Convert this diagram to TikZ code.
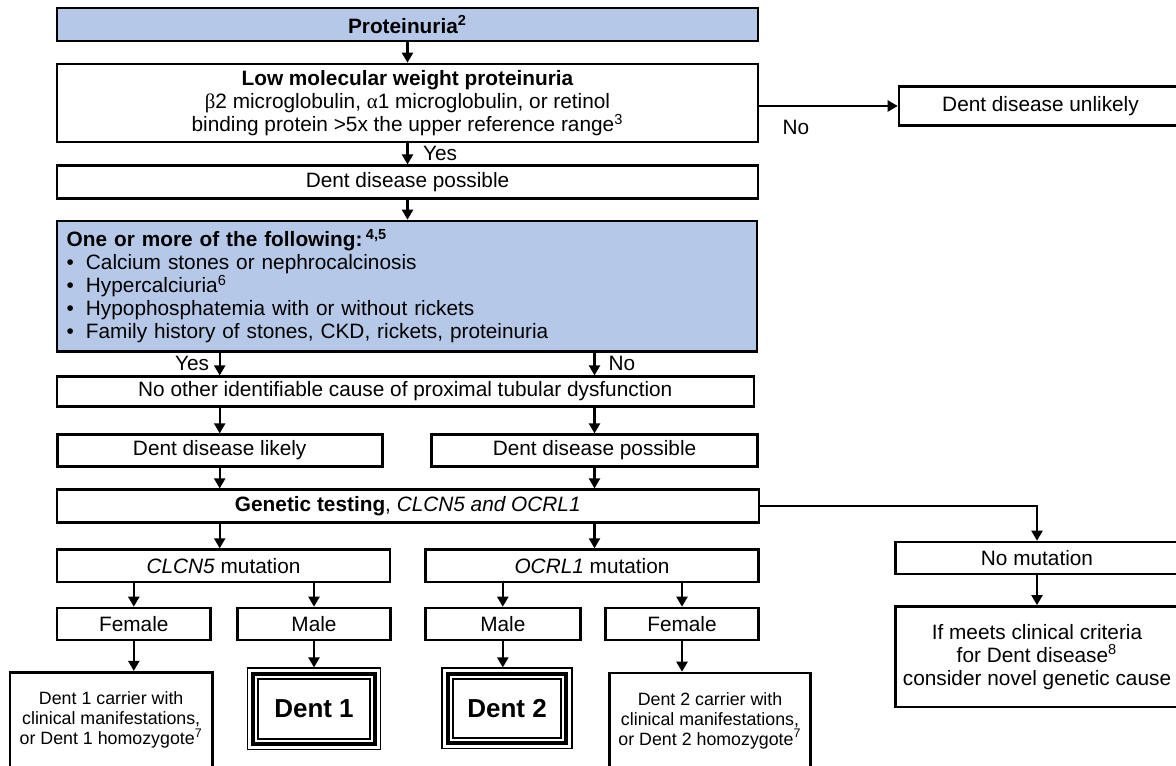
\documentclass[tikz,border=0pt]{standalone}
\usepackage{fontspec}
\setmainfont{Liberation Sans}
\newfontfamily\greekfont{Liberation Serif}
\usetikzlibrary{arrows.meta}
\definecolor{listblue}{RGB}{182,200,232}

\begin{document}
\begin{tikzpicture}[x=0.5pt, y=-0.5pt,
	font=\fontsize{10.4pt}{11.5pt}\selectfont,
	flow/.style={draw, line width=1.3pt, fill=white, inner sep=0pt, align=center},
	flowblue/.style={flow, fill=listblue},
	carrier/.style={flow, font=\fontsize{8.9pt}{10pt}\selectfont},
	dentframe/.style={draw, line width=0.6pt, inner sep=0pt, font=\fontsize{13pt}{15pt}\selectfont\bfseries},
	arr/.style={line width=1.1pt, -{Triangle[length=5pt, width=5.5pt]}},
	yesno/.style={inner sep=0pt}]
	\clip (0,0) rectangle (1176,765);
	
	%main column
	\node (prot) at (407.5, 24.5) [flowblue, minimum width=350.5pt, minimum height=16.5pt]{\textbf{Proteinuria\textsuperscript{2}}};
	\node (lmw) at (407.5, 103) [flow, minimum width=350.5pt, minimum height=39pt]{\textbf{Low molecular weight proteinuria}\\{\greekfont β}2 microglobulin, {\greekfont α}1 microglobulin, or retinol\\binding protein >5x the upper reference range\textsuperscript{3}};
	\node (unlikely) at (1040.5, 106) [flow, minimum width=141.5pt, minimum height=19.5pt]{Dent disease unlikely};
	\node (poss1) at (407.5, 182) [flow, minimum width=350.5pt, minimum height=16.3pt]{Dent disease possible};
	\node (crit) at (407, 286.3) [flowblue, minimum width=350pt, minimum height=65.3pt, text width=340.3pt, inner xsep=4.85pt, align=left]{\textbf{One or more of the following:}\,\textsuperscript{\textbf{4,5}}\\
		•\hspace{6pt}Calcium stones or nephrocalcinosis\\
		•\hspace{6pt}Hypercalciuria\textsuperscript{6}\\
		•\hspace{6pt}Hypophosphatemia with or without rickets\\
		•\hspace{6pt}Family history of stones, CKD, rickets, proteinuria};
	\node (noother) at (405.3, 391.5) [flow, minimum width=348.5pt, minimum height=14.8pt]{No other identifiable cause of proximal tubular dysfunction};
	\node (likely) at (219.7, 450.5) [flow, minimum width=162.5pt, minimum height=15.8pt]{Dent disease likely};
	\node (poss2) at (594.5, 450.5) [flow, minimum width=163pt, minimum height=15.8pt]{Dent disease possible};
	\node (gen) at (407.8, 506) [flow, minimum width=351pt, minimum height=16.3pt]{\textbf{Genetic testing}, \textit{CLCN5 and OCRL1}};
	
	%mutation row
	\node (clcn) at (223.5, 565.8) [flow, minimum width=166.5pt, minimum height=16.2pt]{\textit{CLCN5} mutation};
	\node (ocrl) at (592, 565.8) [flow, minimum width=166.7pt, minimum height=16.2pt]{\textit{OCRL1} mutation};
	\node (nomut) at (1037, 558) [flow, minimum width=141.3pt, minimum height=16pt]{No mutation};
	
	%sex row
	\node (fem1) at (133.8, 624) [flow, minimum width=76.8pt, minimum height=16pt]{Female};
	\node (male1) at (314, 624) [flow, minimum width=76.7pt, minimum height=16pt]{Male};
	\node (male2) at (502.8, 624) [flow, minimum width=77.5pt, minimum height=16pt]{Male};
	\node (fem2) at (682, 624) [flow, minimum width=76.7pt, minimum height=16pt]{Female};
	
	%outcomes
	\node (carr1) at (111.2, 720.2) [carrier, minimum width=101.2pt, minimum height=48pt]{Dent 1 carrier with\\clinical manifestations,\\or Dent 1 homozygote\textsuperscript{7}};
	\node (dent1) at (314, 708.8) [dentframe, minimum width=66.7pt, minimum height=40.8pt]{Dent 1};
	\node (dent2) at (507, 708.3) [dentframe, minimum width=65pt, minimum height=40.3pt]{Dent 2};
	\node (carr2) at (710, 720.5) [carrier, minimum width=100.7pt, minimum height=47.5pt]{Dent 2 carrier with\\clinical manifestations,\\or Dent 2 homozygote\textsuperscript{7}};
	\node (meets) at (1037, 656.7) [flow, minimum width=141.3pt, minimum height=50.3pt]{If meets clinical criteria\\for Dent disease\textsuperscript{8}\\consider novel genetic cause};
	
	\foreach \d in {dent1, dent2}{
		\draw[line width=2.2pt] ([shift={(6.5,6.5)}]\d.north west) rectangle ([shift={(-6.5,-6.5)}]\d.south east);
		\draw[line width=0.9pt] ([shift={(11.5,11.5)}]\d.north west) rectangle ([shift={(-11.5,-11.5)}]\d.south east);
	}
	
	%yes and no
	\node (yes1) at (440, 153) [yesno]{Yes};
	\node (no1) at (796, 127.6) [yesno]{No};
	\node (yes2) at (192, 363) [yesno]{Yes};
	\node (no2) at (622, 363) [yesno]{No};
	
	%arrows
	\draw[arr] (prot) -- (lmw);
	\draw[arr] (lmw.east |- unlikely) -- (unlikely);
	\draw[arr] (lmw) -- (poss1);
	\draw[arr] (poss1) -- (crit.north -| poss1);
	\draw[arr] (crit.south -| likely) -- (noother.north -| likely);
	\draw[arr] (crit.south -| poss2) -- (noother.north -| poss2);
	\draw[arr] (noother.south -| likely) -- (likely);
	\draw[arr] (noother.south -| poss2) -- (poss2);
	\draw[arr] (likely) -- (gen.north -| likely);
	\draw[arr] (poss2) -- (gen.north -| poss2);
	\draw[arr] (gen.south -| likely) -- (clcn.north -| likely);
	\draw[arr] (gen.south -| poss2) -- (ocrl.north -| poss2);
	\draw[arr] (gen) -| (nomut);
	\draw[arr] (nomut) -- (meets);
	\draw[arr] (clcn.south -| fem1) -- (fem1);
	\draw[arr] (clcn.south -| male1) -- (male1);
	\draw[arr] (ocrl.south -| male2) -- (male2);
	\draw[arr] (ocrl.south -| fem2) -- (fem2);
	\draw[arr] (fem1) -- (carr1.north -| fem1);
	\draw[arr] (male1) -- (dent1);
	\draw[arr] (male2) -- (dent2.north -| male2);
	\draw[arr] (fem2) -- (carr2.north -| fem2);
\end{tikzpicture}
\end{document}
